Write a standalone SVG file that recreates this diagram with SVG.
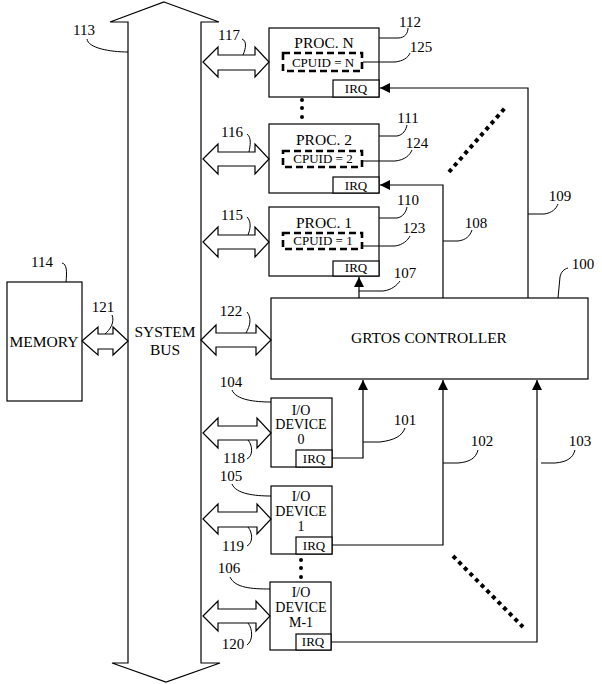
<svg xmlns="http://www.w3.org/2000/svg" width="602" height="684" viewBox="0 0 602 684" font-family="'Liberation Serif', 'DejaVu Serif', serif">
<style>
.b{fill:#fff;stroke:#000;stroke-width:1.2}
.l{fill:none;stroke:#000;stroke-width:1.2}
.ld{fill:none;stroke:#000;stroke-width:1}
.d{fill:none;stroke:#000;stroke-width:2.6;stroke-dasharray:7,4}
.dot{fill:none;stroke:#000;stroke-width:4;stroke-dasharray:4,4}
text{fill:#000;text-anchor:middle}
.t{font-size:15.5px}
.n{font-size:15px}
.c{font-size:13px}
.q{font-size:13px}
.io{font-size:14px}
</style>
<defs>
<marker id="ah" viewBox="0 0 10 10" refX="10" refY="5" markerWidth="10" markerHeight="10" markerUnits="userSpaceOnUse" orient="auto"><path d="M0,0 L10,5 L0,10 Z" fill="#000"/></marker>
</defs>

<g id="system-bus">
<path class="b" d="M164,2 L219,22 L201,22 L201,663 L220,663 L166,682 L112,663 L128,663 L128,22 L110,22 Z"/>
<text class="t" x="165" y="337">SYSTEM</text>
<text class="t" x="165" y="355">BUS</text>
</g>

<g id="memory">
<rect class="b" x="7" y="282" width="75" height="119"/>
<text class="t" x="44" y="347">MEMORY</text>
</g>

<g id="proc-n">
<rect class="b" x="269" y="28" width="110" height="69"/>
<rect class="b" x="333" y="80" width="46" height="17"/>
<rect class="d" x="283" y="53" width="79" height="18"/>
<text class="t" x="324" y="48">PROC. N</text>
<text class="c" x="323" y="67">CPUID = N</text>
<text class="q" x="356" y="93">IRQ</text>
</g>

<g id="proc-2">
<rect class="b" x="269" y="124" width="110" height="69"/>
<rect class="b" x="333" y="177" width="46" height="16"/>
<rect class="d" x="283" y="151" width="79" height="16"/>
<text class="t" x="324" y="145">PROC. 2</text>
<text class="c" x="323" y="163">CPUID = 2</text>
<text class="q" x="356" y="190">IRQ</text>
</g>

<g id="proc-1">
<rect class="b" x="269" y="207" width="110" height="69"/>
<rect class="b" x="333" y="261" width="46" height="15"/>
<rect class="d" x="283" y="233" width="79" height="16"/>
<text class="t" x="324" y="228">PROC. 1</text>
<text class="c" x="323" y="245">CPUID = 1</text>
<text class="q" x="356" y="272">IRQ</text>
</g>

<g id="grtos-controller">
<rect class="b" x="271" y="298" width="317" height="81"/>
<text class="t" x="429" y="343">GRTOS CONTROLLER</text>
</g>

<g id="io-0">
<rect class="b" x="271" y="398" width="61" height="69"/>
<rect class="b" x="296" y="450" width="36" height="17"/>
<text class="io" x="301" y="415">I/O</text>
<text class="io" x="301" y="429">DEVICE</text>
<text class="io" x="301" y="444">0</text>
<text class="q" x="314" y="463">IRQ</text>
</g>

<g id="io-1">
<rect class="b" x="271" y="486" width="61" height="68"/>
<rect class="b" x="296" y="537" width="36" height="17"/>
<text class="io" x="301" y="501">I/O</text>
<text class="io" x="301" y="516">DEVICE</text>
<text class="io" x="301" y="531">1</text>
<text class="q" x="314" y="550">IRQ</text>
</g>

<g id="io-m1">
<rect class="b" x="270" y="582" width="61" height="68"/>
<rect class="b" x="296" y="634" width="35" height="16"/>
<text class="io" x="301" y="597">I/O</text>
<text class="io" x="301" y="612">DEVICE</text>
<text class="io" x="301" y="627">M-1</text>
<text class="q" x="313" y="646">IRQ</text>
</g>

<g id="connectors">
<path class="b" d="M82,341 L98,327 L98,334 L113,334 L113,327 L128,341 L113,355 L113,349 L98,349 L98,355 Z"/>
<path class="b" d="M203,62 L218,47 L218,55 L255,55 L255,47 L269,62 L255,77 L255,70 L218,70 L218,77 Z"/>
<path class="b" d="M203,159 L218,144 L218,152 L255,152 L255,144 L269,159 L255,174 L255,166 L218,166 L218,174 Z"/>
<path class="b" d="M203,242 L218,227 L218,235 L255,235 L255,227 L269,242 L255,257 L255,249 L218,249 L218,257 Z"/>
<path class="b" d="M201,340 L216,325 L216,333 L256,333 L256,325 L271,340 L256,355 L256,347 L216,347 L216,355 Z"/>
<path class="b" d="M203,433 L218,418 L218,426 L257,426 L257,418 L271,433 L257,448 L257,440 L218,440 L218,448 Z"/>
<path class="b" d="M203,519 L218,504 L218,512 L257,512 L257,504 L271,519 L257,534 L257,527 L218,527 L218,534 Z"/>
<path class="b" d="M203,616 L218,601 L218,609 L256,609 L256,601 L270,616 L256,631 L256,623 L218,623 L218,631 Z"/>
<path class="l" d="M528,298 L528,88 L380,88" marker-end="url(#ah)"/>
<path class="l" d="M443,298 L443,185 L380,185" marker-end="url(#ah)"/>
<path class="l" d="M359,298 L359,277" marker-end="url(#ah)"/>
<path class="l" d="M332,458 L363,458 L363,380" marker-end="url(#ah)"/>
<path class="l" d="M332,545 L443,545 L443,380" marker-end="url(#ah)"/>
<path class="l" d="M331,642 L537,642 L537,380" marker-end="url(#ah)"/>
<line class="dot" x1="449" y1="172" x2="505" y2="108"/>
<line class="dot" x1="453" y1="556" x2="523" y2="627"/>
<circle cx="302" cy="100" r="2"/>
<circle cx="302" cy="108" r="2"/>
<circle cx="302" cy="117" r="2"/>
<circle cx="301" cy="560" r="2"/>
<circle cx="301" cy="568" r="2"/>
<circle cx="301" cy="577" r="2"/>
<path class="ld" d="M87,39 C88,48 110,52 128,52"/>
<path class="ld" d="M242,39 C247,41 246,48 243,55"/>
<path class="ld" d="M379,38 L398,38 C405,38 408,33 408,28"/>
<path class="ld" d="M363,62 L395,62 C403,61 408,58 410,53"/>
<path class="ld" d="M247,134 C252,138 250,146 249,152"/>
<path class="ld" d="M379,136 L397,136 C403,135 406,130 407,125"/>
<path class="ld" d="M363,161 L395,161 C405,160 410,155 412,150"/>
<path class="ld" d="M247,217 C252,222 250,230 248,235"/>
<path class="ld" d="M379,218 L397,218 C403,217 406,212 407,207"/>
<path class="ld" d="M363,246 L395,246 C403,245 408,240 410,236"/>
<path class="ld" d="M359,291 L383,291 C392,290 397,285 400,281"/>
<path class="ld" d="M558,298 L560,277 C561,272 564,269 568,268"/>
<path class="ld" d="M443,241 L458,241 C466,240 470,236 472,230"/>
<path class="ld" d="M528,214 L544,214 C552,213 556,209 558,204"/>
<path class="ld" d="M247,312 C252,318 250,326 246,333"/>
<path class="ld" d="M112,315 C115,322 110,330 105,334"/>
<path class="ld" d="M62,263 C67,264 67,272 66,282"/>
<path class="ld" d="M232,390 C236,400 255,402 271,402"/>
<path class="ld" d="M363,442 L380,442 C395,440 402,436 405,428"/>
<path class="ld" d="M443,463 L458,463 C470,462 476,458 478,450"/>
<path class="ld" d="M541,463 L555,463 C567,462 573,458 575,450"/>
<path class="ld" d="M248,440 C253,446 253,456 247,459"/>
<path class="ld" d="M232,484 C236,494 255,496 271,496"/>
<path class="ld" d="M248,527 C253,533 253,543 247,546"/>
<path class="ld" d="M230,577 C235,588 252,589 270,589"/>
<path class="ld" d="M248,623 C253,629 253,641 247,645"/>
</g>

<g id="labels">
<text class="n" x="84" y="35">113</text>
<text class="n" x="229" y="40">117</text>
<text class="n" x="410" y="27">112</text>
<text class="n" x="421" y="52">125</text>
<text class="n" x="232" y="137">116</text>
<text class="n" x="408" y="123">111</text>
<text class="n" x="417" y="148">124</text>
<text class="n" x="232" y="220">115</text>
<text class="n" x="408" y="205">110</text>
<text class="n" x="414" y="233">123</text>
<text class="n" x="405" y="278">107</text>
<text class="n" x="583" y="269">100</text>
<text class="n" x="476" y="228">108</text>
<text class="n" x="560" y="201">109</text>
<text class="n" x="231" y="316">122</text>
<text class="n" x="103" y="312">121</text>
<text class="n" x="42" y="267">114</text>
<text class="n" x="231" y="387">104</text>
<text class="n" x="405" y="425">101</text>
<text class="n" x="482" y="446">102</text>
<text class="n" x="580" y="446">103</text>
<text class="n" x="234" y="463">118</text>
<text class="n" x="231" y="481">105</text>
<text class="n" x="233" y="551">119</text>
<text class="n" x="229" y="573">106</text>
<text class="n" x="233" y="649">120</text>
</g>
</svg>
